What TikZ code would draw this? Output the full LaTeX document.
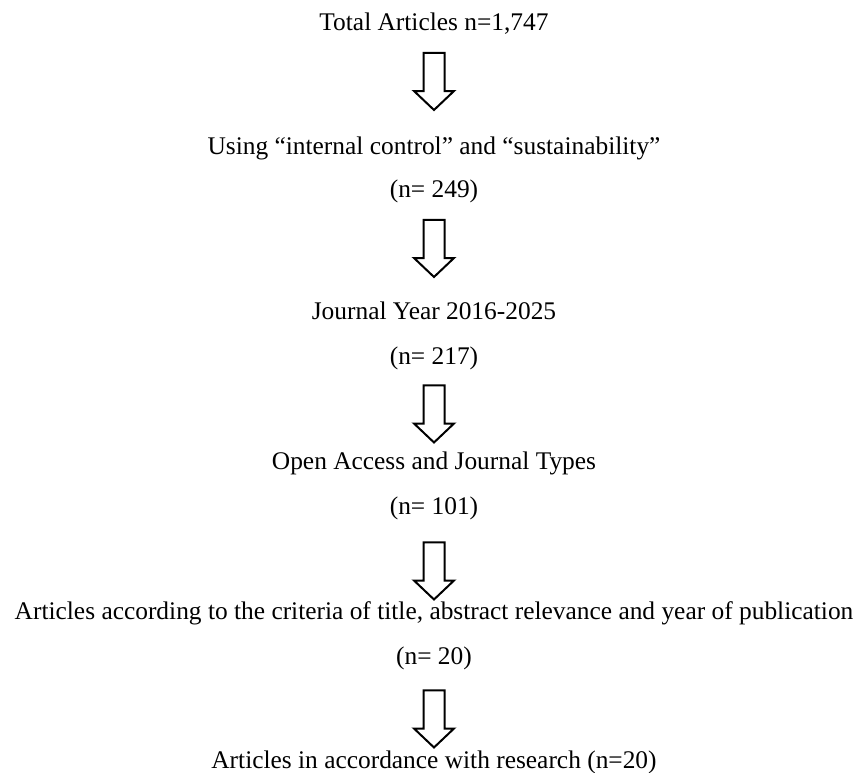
\documentclass[tikz,border=0pt]{standalone}
\usepackage{fontspec}
\setmainfont{Liberation Serif}
\usetikzlibrary{shapes.arrows}

\begin{document}
\begin{tikzpicture}[
    x=0.5pt,
    y=-0.5pt,
    stage/.style={
        font=\fontsize{12.7}{15}\selectfont,
        anchor=base,
        inner sep=0pt,
    },
    flow/.style={
        single arrow,
        draw,
        line width=1pt,
        rotate=-90,
        minimum height=28.5pt,
        minimum width=19pt,
        inner xsep=0pt,
        inner ysep=4.75pt,
        single arrow head extend=4.75pt,
        single arrow tip angle=93,
        single arrow head indent=0pt,
    }
]
    \useasboundingbox (0,0) rectangle (859,773);

    % Stages
    \node[stage] (total) at (434,30) {Total Articles n=1,747};
    \node[stage] (keyword) at (434,154) {Using “internal control” and “sustainability”};
    \node[stage] (keywordn) at (434,197) {(n= 249)};
    \node[stage] (year) at (434,319) {Journal Year 2016-2025};
    \node[stage] (yearn) at (434,364) {(n= 217)};
    \node[stage] (access) at (434,469) {Open Access and Journal Types};
    \node[stage] (accessn) at (434,514) {(n= 101)};
    \node[stage] (criteria) at (434,619) {Articles according to the criteria of title, abstract relevance and year of publication};
    \node[stage] (criterian) at (434,664) {(n= 20)};
    \node[stage] (final) at (434,768) {Articles in accordance with research (n=20)};

    % Arrows
    \node[flow] (arrow1) at (434,76.5) {};
    \node[flow] (arrow2) at (434,243.5) {};
    \node[flow] (arrow3) at (434,409) {};
    \node[flow] (arrow4) at (434,566) {};
    \node[flow] (arrow5) at (434,714) {};
\end{tikzpicture}
\end{document}
